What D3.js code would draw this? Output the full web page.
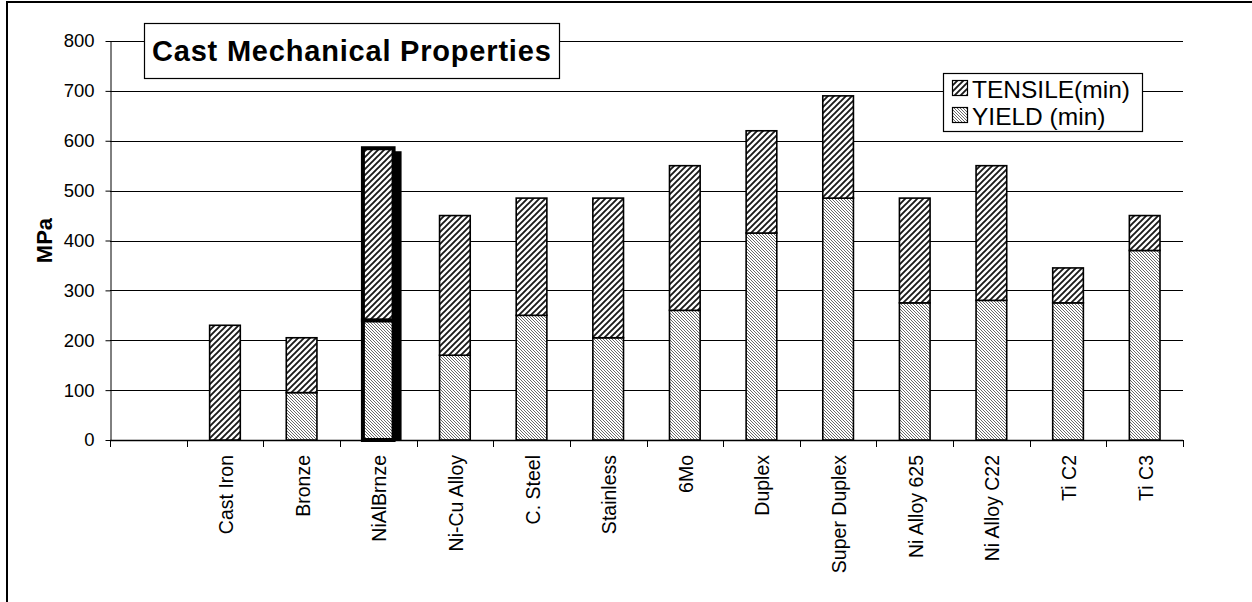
<!DOCTYPE html>
<html>
<head>
<meta charset="utf-8">
<script src="https://cdn.jsdelivr.net/npm/d3@7"></script>
<style>
  html, body { margin: 0; padding: 0; background: #fff; }
  svg { display: block; font-family: Arial, "Liberation Sans", sans-serif; }
</style>
</head>
<body>
<svg id="chart" width="1252" height="602"></svg>
<script>
// Cast alloys (first slot left empty, as on the original sheet)
const categories = ["", "Cast Iron", "Bronze", "NiAlBrnze", "Ni-Cu Alloy", "C. Steel", "Stainless",
  "6Mo", "Duplex", "Super Duplex", "Ni Alloy 625", "Ni Alloy C22", "Ti C2", "Ti C3"];
// Minimum tensile strength, MPa
const tensile = [null, 230, 205, 585, 450, 485, 485, 550, 620, 690, 485, 550, 345, 450];
// Minimum yield strength, MPa
const yieldStrength = [null, 0, 95, 240, 170, 250, 205, 260, 415, 485, 275, 280, 275, 380];
const yTicks = [0, 100, 200, 300, 400, 500, 600, 700, 800];
const highlighted = "NiAlBrnze";

const svg = d3.select("#chart");

// Hatch fills
const defs = svg.append("defs");
defs.append("pattern")
  .attr("id", "hatchTensile").attr("patternUnits", "userSpaceOnUse")
  .attr("width", 6).attr("height", 6)
  .call(p => {
    p.append("rect").attr("width", 6).attr("height", 6).attr("fill", "#fff");
    p.append("path").attr("d", "M-1,1 l2,-2 M0,6 l6,-6 M5,7 l2,-2")
      .attr("stroke", "#1a1a1a").attr("stroke-width", 1.9);
  });
defs.append("pattern")
  .attr("id", "hatchYield").attr("patternUnits", "userSpaceOnUse")
  .attr("width", 3).attr("height", 3)
  .call(p => {
    p.append("rect").attr("width", 3).attr("height", 3).attr("fill", "#fff");
    p.append("path").attr("d", "M0,0 l3,3 M-1,2 l1.5,1.5 M2,-1 l1.5,1.5")
      .attr("stroke", "#444").attr("stroke-width", 0.8);
  });

// Outer chart frame
svg.append("rect")
  .attr("x", 7).attr("y", 2).attr("width", 1300).attr("height", 700)
  .attr("fill", "none").attr("stroke", "#000").attr("stroke-width", 2);

const plot = { left: 110, right: 1183, top: 41, bottom: 440 };

const x = d3.scaleBand().domain(categories).range([plot.left, plot.right]).padding(0);
const y = d3.scaleLinear().domain([0, 800]).range([plot.bottom, plot.top]);
const barW = x.bandwidth() / 2.5;

// Gridlines
svg.append("g").selectAll("line").data(yTicks.filter(t => t > 0)).join("line")
  .attr("x1", plot.left).attr("x2", plot.right)
  .attr("y1", d => Math.round(y(d)) + 0.5).attr("y2", d => Math.round(y(d)) + 0.5)
  .attr("stroke", "#000").attr("stroke-width", 1);

// Y axis
const yAxis = svg.append("g")
  .attr("transform", `translate(${plot.left + 0.5},0)`)
  .call(d3.axisLeft(y).tickValues(yTicks).tickSize(5).tickSizeOuter(0).tickPadding(11));
yAxis.selectAll("text").attr("font-size", 18.5).attr("fill", "#000")
  .attr("font-family", "Arial, 'Liberation Sans', sans-serif");
yAxis.selectAll("line, path").attr("stroke", "#000");

// X axis: ticks on category boundaries
const xAxisG = svg.append("g");
xAxisG.append("line")
  .attr("x1", plot.left).attr("x2", plot.right)
  .attr("y1", plot.bottom + 0.5).attr("y2", plot.bottom + 0.5)
  .attr("stroke", "#000").attr("stroke-width", 1.5);
const boundaries = categories.map(c => x(c)).concat([plot.right]);
xAxisG.selectAll("line.tick").data(boundaries).join("line")
  .attr("class", "tick")
  .attr("x1", d => Math.round(d) + 0.5).attr("x2", d => Math.round(d) + 0.5)
  .attr("y1", plot.bottom).attr("y2", plot.bottom + 7)
  .attr("stroke", "#000");
xAxisG.selectAll("text").data(categories.filter(c => c)).join("text")
  .attr("transform", d => `translate(${x(d) + x.bandwidth() / 2 + 1},${plot.bottom + 15}) rotate(-90)`)
  .attr("text-anchor", "end").attr("dominant-baseline", "central")
  .attr("font-size", 19.5).attr("fill", "#000")
  .text(d => d);

// Stacked bars: yield at the bottom, tensile range on top
const rows = categories.map((c, i) => ({ c, t: tensile[i], yv: yieldStrength[i] }))
  .filter(r => r.t != null);

const barsG = svg.append("g");
rows.forEach(r => {
  const hl = r.c === highlighted;
  const bx = x(r.c) + (x.bandwidth() - barW) / 2;
  const sw = hl ? 4 : 1.6;
  if (hl) {
    // drop shadow on the right of the highlighted bar
    barsG.append("rect")
      .attr("x", bx + barW).attr("y", y(r.t) + 3)
      .attr("width", 8).attr("height", y(0) - y(r.t) - 3)
      .attr("fill", "#000");
  }
  if (r.yv > 0) {
    barsG.append("rect")
      .attr("x", bx).attr("y", y(r.yv)).attr("width", barW).attr("height", y(0) - y(r.yv))
      .attr("fill", "url(#hatchYield)").attr("stroke", "#000").attr("stroke-width", sw);
  }
  barsG.append("rect")
    .attr("x", bx).attr("y", y(r.t)).attr("width", barW).attr("height", y(r.yv) - y(r.t))
    .attr("fill", "url(#hatchTensile)").attr("stroke", "#000").attr("stroke-width", sw);
});

// Y axis title
svg.append("text")
  .attr("transform", `translate(44,${(plot.top + plot.bottom) / 2}) rotate(-90)`)
  .attr("text-anchor", "middle").attr("dominant-baseline", "central")
  .attr("font-size", 22).attr("font-weight", "bold").text("MPa");

// Title box
svg.append("rect")
  .attr("x", 144.5).attr("y", 23.5).attr("width", 415).attr("height", 55)
  .attr("fill", "#fff").attr("stroke", "#000").attr("stroke-width", 1.2);
svg.append("text")
  .attr("x", 152).attr("y", 51).attr("dominant-baseline", "central")
  .attr("font-size", 29).attr("font-weight", "bold").attr("letter-spacing", 0.8)
  .text("Cast Mechanical Properties");

// Legend
const legend = svg.append("g");
legend.append("rect")
  .attr("x", 943.5).attr("y", 73.5).attr("width", 199).attr("height", 58)
  .attr("fill", "#fff").attr("stroke", "#000").attr("stroke-width", 1.2);
const legendItems = [
  { label: "TENSILE(min)", fill: "url(#hatchTensile)" },
  { label: "YIELD (min)", fill: "url(#hatchYield)" }
];
legendItems.forEach((it, i) => {
  const cy = 88 + i * 27;
  legend.append("rect")
    .attr("x", 952.5).attr("y", cy - 7.5).attr("width", 15).attr("height", 15)
    .attr("fill", it.fill).attr("stroke", "#000").attr("stroke-width", 1.2);
  legend.append("text")
    .attr("x", 972).attr("y", cy + 1).attr("dominant-baseline", "central")
    .attr("font-size", 24.5).text(it.label);
});
</script>
</body>
</html>
